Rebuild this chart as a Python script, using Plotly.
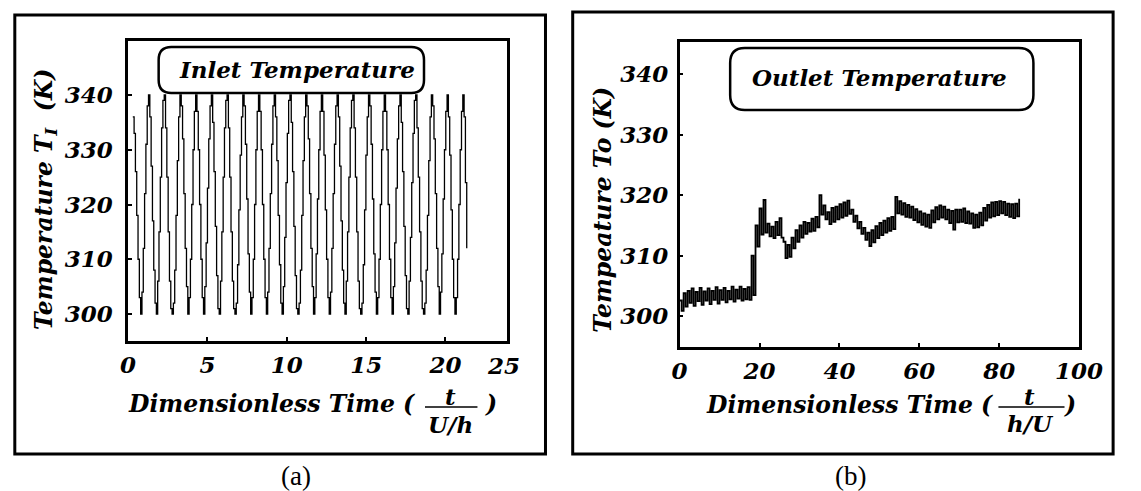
import plotly.graph_objects as go

W, H = 1141, 491

# ---------------- data ----------------
# Inlet temperature, sampled and held (step plot), one row per cycle
inlet_t0 = 0.30
inlet_dt = 0.0825
inlet_start = [336, 333, 326, 318, 310, 303, 300]
inlet_cycles = [
    [304, 312, 322, 331, 338, 340, 336, 327, 317, 308, 302, 300],
    [306, 315, 325, 334, 339, 340, 334, 325, 315, 306, 301, 300],
    [302, 308, 318, 328, 336, 340, 338, 332, 322, 312, 305, 300],
    [303, 310, 320, 330, 337, 340, 337, 330, 320, 310, 303, 300],
    [305, 313, 323, 332, 338, 340, 335, 326, 316, 307, 301, 300],
    [306, 315, 325, 334, 339, 340, 334, 325, 315, 306, 301, 300],
    [302, 309, 319, 329, 336, 340, 338, 331, 321, 311, 304, 300],
    [303, 310, 320, 330, 337, 340, 337, 330, 320, 310, 303, 300],
    [304, 312, 322, 331, 338, 340, 336, 328, 318, 309, 302, 300],
    [305, 314, 324, 333, 339, 340, 335, 326, 316, 307, 301, 300],
    [302, 308, 318, 328, 336, 340, 338, 332, 322, 312, 305, 300],
    [303, 311, 321, 330, 337, 340, 337, 329, 319, 310, 303, 300],
    [304, 312, 322, 331, 338, 340, 336, 327, 317, 308, 302, 300],
    [306, 315, 325, 334, 339, 340, 334, 325, 315, 306, 301, 300],
    [302, 309, 319, 329, 336, 340, 338, 331, 321, 311, 304, 300],
    [303, 310, 320, 330, 337, 340, 337, 330, 320, 310, 303, 300],
    [305, 313, 323, 332, 338, 340, 335, 326, 316, 307, 301, 300],
    [306, 314, 324, 333, 339, 340, 334, 325, 315, 306, 301, 300],
    [302, 308, 318, 328, 336, 340, 338, 332, 322, 312, 305, 300],
    [304, 311, 321, 330, 337, 340, 336, 329, 319, 310, 303, 300],
]
inlet_end = [303, 310, 320, 330, 337, 340, 336, 324, 312]

# Outlet temperature: upper and lower swing at each unit of time (t = 0..85)
outlet_hi = [
    302.6, 303.8, 304.2, 304.6, 304.0, 304.7, 304.1, 304.6, 304.2, 304.8,
    304.3, 304.7, 304.2, 304.9, 304.4, 304.9, 304.5, 304.8, 310.0, 315.0,
    317.8, 319.2, 315.3, 314.8, 315.6, 316.2, 312.3, 311.8, 313.0, 314.2,
    315.0, 315.6, 315.4, 316.1, 316.4, 320.0, 318.3, 317.2, 317.9, 318.1,
    318.5, 318.8, 319.1, 317.6, 316.6, 315.6, 314.6, 313.8, 314.2, 314.9,
    315.4, 315.8, 316.2, 316.4, 319.7, 319.0, 318.7, 318.4, 318.1, 317.7,
    317.3, 317.0, 316.8, 317.5, 318.0, 318.3, 318.1, 317.6, 317.4, 317.6,
    317.6, 317.8, 317.3, 317.0, 316.8, 317.1, 317.9, 318.4, 318.8, 318.9,
    319.0, 318.9, 318.6, 318.5, 318.6, 319.4,
]
outlet_lo = [
    300.9, 301.6, 302.2, 301.7, 302.5, 301.9, 302.6, 302.0, 302.7, 302.1,
    302.7, 302.3, 302.8, 302.4, 302.9, 302.6, 302.8, 302.7, 303.5, 311.5,
    313.5, 313.8, 313.2, 312.9, 313.4, 313.0, 309.6, 309.8, 311.2, 312.3,
    313.0, 313.6, 314.0, 314.1, 314.7, 316.8, 316.0, 315.2, 315.6, 316.0,
    316.3, 316.6, 316.9, 315.6, 314.5, 313.6, 312.6, 311.6, 312.2, 312.9,
    313.4, 313.8, 314.1, 314.4, 317.0, 316.8, 316.4, 316.3, 315.9, 315.5,
    315.1, 314.8, 314.6, 315.5, 316.0, 316.3, 316.0, 315.4, 314.3, 315.5,
    315.6, 315.4, 315.3, 314.6, 314.7, 315.0, 315.8, 316.3, 316.5, 316.7,
    317.0, 316.7, 316.4, 316.2, 316.5, 317.6,
]

inlet_ticks = [300, 310, 320, 330, 340]
inlet_xticks = [0, 5, 10, 15, 20]
outlet_ticks = [300, 310, 320, 330, 340]
outlet_xticks = [0, 20, 40, 60, 80, 100]

# ---------------- series assembly ----------------
inlet_T = list(inlet_start)
for row in inlet_cycles:
    inlet_T.extend(row)
inlet_T.extend(inlet_end)
inlet_t = [inlet_t0 + i * inlet_dt for i in range(len(inlet_T))]

outlet_t, outlet_T = [], []
for k, (hi, lo) in enumerate(zip(outlet_hi, outlet_lo)):
    outlet_t += [k, k + 0.5]
    outlet_T += [hi, lo]
outlet_t, outlet_T = outlet_t[:-1], outlet_T[:-1]


def px(x):
    return x / W


def py(y):
    return 1 - y / H


fig = go.Figure()
fig.add_trace(go.Scatter(x=inlet_t, y=inlet_T, mode="lines",
                         line=dict(color="black", width=1.3, shape="hv"),
                         xaxis="x", yaxis="y", showlegend=False))
fig.add_trace(go.Scatter(x=outlet_t, y=outlet_T, mode="lines",
                         line=dict(color="black", width=1.8, shape="hv"),
                         xaxis="x2", yaxis="y2", showlegend=False))

tick_font = dict(family="DejaVu Serif", size=23, color="black",
                 style="italic", weight="bold")
axis_common = dict(showline=True, linewidth=2.5, linecolor="black", mirror=True,
                   ticks="inside", ticklen=4, tickwidth=2, tickcolor="black",
                   showgrid=False, zeroline=False, tickfont=tick_font)

fig.update_layout(
    width=W, height=H, autosize=False,
    margin=dict(l=0, r=0, t=0, b=0),
    paper_bgcolor="white", plot_bgcolor="white",
    xaxis=dict(domain=[px(123.5), px(513)], range=[0, 23.85],
               tickvals=inlet_xticks, anchor="y", ticklabelstandoff=2,
               **axis_common),
    yaxis=dict(domain=[py(341), py(41)], range=[295.07, 349.86],
               tickvals=inlet_ticks, anchor="x", ticklabelstandoff=8,
               **axis_common),
    xaxis2=dict(domain=[px(691), px(1102)], range=[0, 100],
                tickvals=outlet_xticks, anchor="y2", ticklabelstandoff=2,
                **axis_common),
    yaxis2=dict(domain=[py(346.5), py(42)], range=[295.0, 345.3],
                tickvals=outlet_ticks, anchor="x2", ticklabelstandoff=4,
                **axis_common),
)


def rounded_box(x0, y0, x1, y1, r):
    X0, X1, Y0, Y1 = px(x0), px(x1), py(y0), py(y1)
    rx, ry = r / W, r / H
    return (f"M {X0+rx},{Y0} L {X1-rx},{Y0} Q {X1},{Y0} {X1},{Y0-ry} "
            f"L {X1},{Y1+ry} Q {X1},{Y1} {X1-rx},{Y1} L {X0+rx},{Y1} "
            f"Q {X0},{Y1} {X0},{Y1+ry} L {X0},{Y0-ry} Q {X0},{Y0} {X0+rx},{Y0} Z")


shapes = [
    # outer panel frames
    dict(type="rect", xref="paper", yref="paper", x0=px(7), x1=px(553),
         y0=py(454), y1=py(15), line=dict(color="black", width=3)),
    dict(type="rect", xref="paper", yref="paper", x0=px(581), x1=px(1137),
         y0=py(454), y1=py(12), line=dict(color="black", width=3)),
    # title boxes
    dict(type="path", xref="paper", yref="paper",
         path=rounded_box(155, 47, 428, 93, 13), line=dict(color="black", width=2.5)),
    dict(type="path", xref="paper", yref="paper",
         path=rounded_box(743, 48, 1055, 110, 15), line=dict(color="black", width=2.5)),
    # fraction bars in the x-axis titles
    dict(type="line", xref="paper", yref="paper", x0=px(429), x1=px(483),
         y0=py(407), y1=py(407), line=dict(color="black", width=1.5)),
    dict(type="line", xref="paper", yref="paper", x0=px(1019), x1=px(1087),
         y0=py(407), y1=py(407), line=dict(color="black", width=1.5)),
]
fig.update_layout(shapes=shapes)

lab_font = dict(family="DejaVu Serif", size=23, color="black",
                style="italic", weight="bold")
title_font = dict(family="DejaVu Serif", size=23.5, color="black",
                  style="italic", weight="bold")


def note(text, x, y, xanchor="center", angle=0, font=lab_font):
    fig.add_annotation(text=text, x=px(x), y=py(y), xref="paper", yref="paper",
                       xanchor=xanchor, yanchor="middle", showarrow=False,
                       textangle=angle, font=font)


note("Inlet Temperature", 297, 69)
note("Outlet Temperature", 897, 78)
note("Temperature T<sub>I</sub>  (K)", 38, 199, angle=-90, font=title_font)
note("Tempeature To (K)", 612, 210, angle=-90, font=title_font)

# x-axis titles with stacked fractions
note("Dimensionless Time (", 421, 404, xanchor="right", font=title_font)
note("t", 455, 396)
note("U/h", 455, 424)
note(")", 497, 404, font=title_font)

note("Dimensionless Time (", 1015, 405, xanchor="right", font=title_font)
note("t", 1051, 396)
note("h/U", 1052, 423)
note(")", 1093, 405, font=title_font)

# last tick label of the inlet time axis sits at the frame edge
note("25", 510, 365, font=tick_font)

panel_font = dict(family="Liberation Serif", size=27, color="black")
note("(a)", 296, 476, font=panel_font)
note("(b)", 867, 476, font=panel_font)

fig.write_html("out.html")
